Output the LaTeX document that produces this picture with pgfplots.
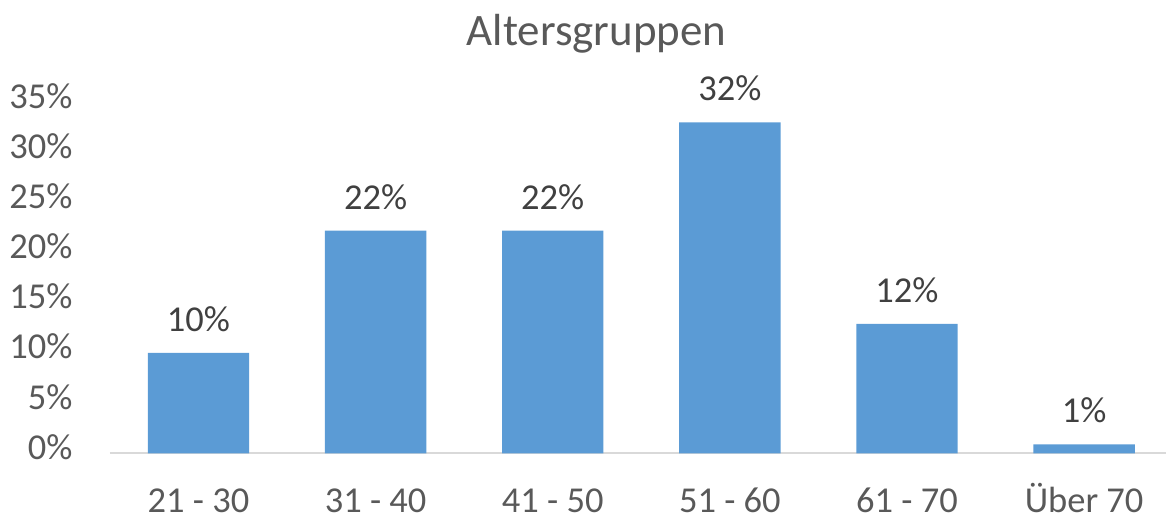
\documentclass[border=0pt]{standalone}
\usepackage{fontspec}
\setmainfont{Carlito}
\usepackage{pgfplots}
\pgfplotsset{compat=1.18}
\definecolor{barblue}{HTML}{5B9BD5}
\definecolor{txtgray}{HTML}{595959}
\definecolor{lblgray}{HTML}{404040}
\definecolor{axgray}{HTML}{D9D9D9}
\begin{document}
\begin{tikzpicture}
\begin{axis}[
  name=ax,
  scale only axis,
  width=528.5pt, height=175.7pt,
  xmin=-0.5, xmax=5.4625,
  ymin=0, ymax=35,
  axis y line=left,
  axis x line=bottom,
  y axis line style={draw=none},
  x axis line style={-, draw=axgray, line width=1pt},
  ybar, bar width=50.7pt,
  every node near coord/.append style={anchor=base, yshift=10.8pt, font=\fontsize{18.25}{22}\selectfont, text=lblgray},
  xtick={0,...,5},
  xticklabels={21 - 30, 31 - 40, 41 - 50, 51 - 60, 61 - 70, Über 70},
  major tick length=0pt,
  xtick style={draw=none}, ytick style={draw=none},
  xticklabel style={anchor=base, yshift=-29.8pt, font=\fontsize{18.25}{22}\selectfont, text=txtgray},
  ytick={0,5,...,35},
  yticklabel={\pgfmathprintnumber[assume math mode=true]{\tick}\%},
  yticklabel style={anchor=base east, xshift=-15.2pt, yshift=-3pt, font=\fontsize{18.25}{22}\selectfont, text=txtgray},
  clip=false,
  point meta=explicit symbolic,
  nodes near coords={\pgfplotspointmeta\%},
]
\addplot[fill=barblue, draw=none] table[x=x, y=y, meta=lab] {
x y lab
0 10.0 10
1 22.2 22
2 22.2 22
3 33.0 32
4 12.9 12
5 0.9 1
};
\end{axis}
\node[anchor=base, font=\fontsize{22.5}{27}\selectfont, text=txtgray] at ([xshift=243.5pt, yshift=28.15pt]ax.north west) {Altersgruppen};
\path[use as bounding box] ([xshift=-55pt, yshift=-30.65pt]ax.south west) rectangle ([yshift=51.15pt]ax.north east);
\end{tikzpicture}
\end{document}
